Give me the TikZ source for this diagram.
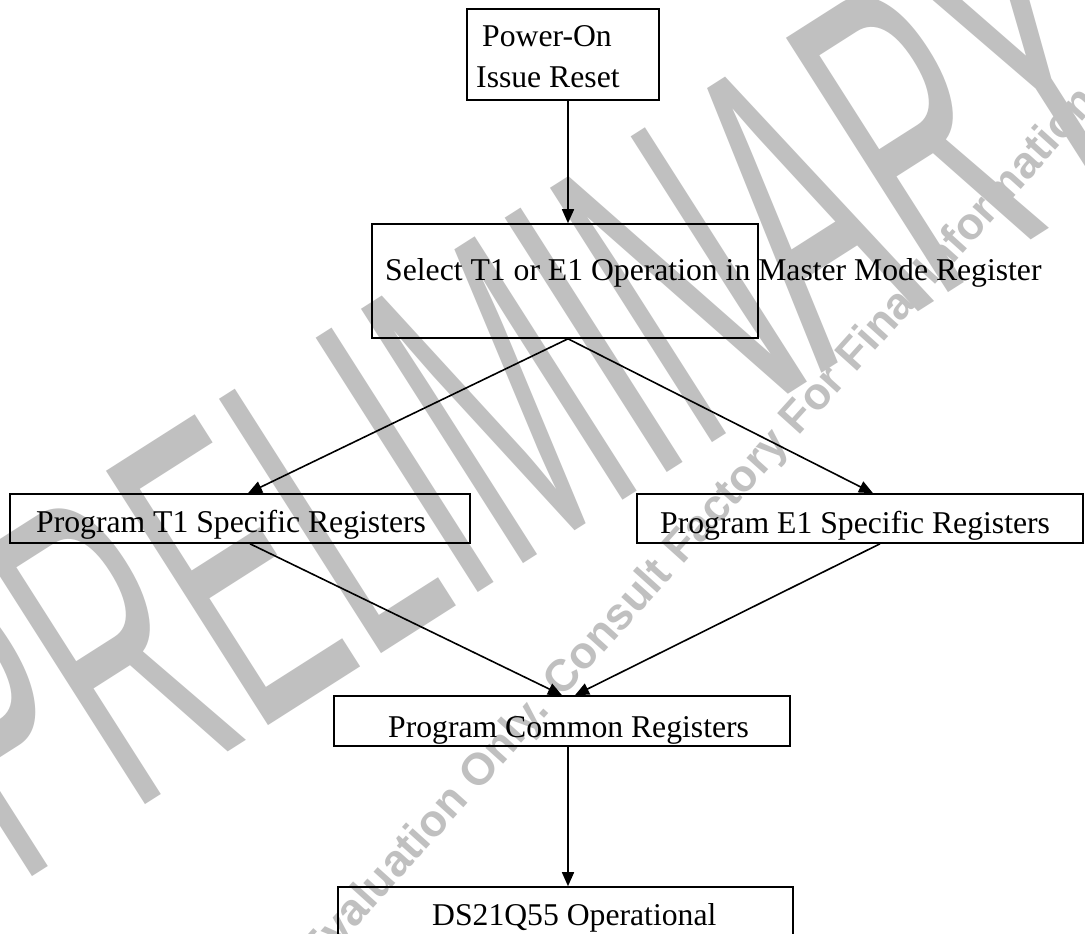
\documentclass[tikz,border=0pt]{standalone}
\usepackage{fontspec}
\usepackage{graphicx}
\setmainfont{Liberation Serif}
\newfontfamily\wmfont{Liberation Sans}
\usetikzlibrary{arrows.meta}
\definecolor{wmgray}{RGB}{192,192,192}
\tikzset{
  box/.style={draw=black, line width=1.6bp, inner sep=0pt},
  lbl/.style={anchor=base west, inner sep=0pt, font=\fontsize{31.8}{38}\selectfont},
  arr/.style={line width=1.6bp, -{Triangle[length=14bp,width=12bp]}},
  wm/.style={text=wmgray, inner sep=0pt},
}
\begin{document}
\begin{tikzpicture}[x=1bp,y=-1bp]
\useasboundingbox (0,0) rectangle (1085,934);
\clip (0,0) rectangle (1085,934);
\fill[white] (0,0) rectangle (1085,934);
% watermark
\node[wm, rotate=32.5] (wm1) at (512,392)
  {\scalebox{0.46}[1]{\wmfont\fontsize{440}{440}\selectfont PRELIMINARY}};
\node[wm, rotate=48, anchor=base west] (wm2) at (318,970)
  {\wmfont\bfseries\fontsize{45}{45}\selectfont Evaluation Only. Consult Factory For Final Information};
% boxes
\node[box, minimum width=192bp, minimum height=91bp] (b1) at (563,54.5) {};
\node[box, minimum width=386bp, minimum height=114bp] (b2) at (565,281) {};
\node[box, minimum width=460bp, minimum height=49bp] (bt) at (240,518.5) {};
\node[box, minimum width=446bp, minimum height=49bp] (be) at (860,518.5) {};
\node[box, minimum width=456bp, minimum height=50bp] (bc) at (562,721) {};
\node[box, minimum width=455bp, minimum height=100bp] (bd) at (565.5,937) {};
% texts
\node[lbl] (t1a) at (482,46) {Power-On};
\node[lbl] (t1b) at (476,87) {Issue Reset};
\node[lbl] (t2) at (385,280) {Select T1 or E1 Operation in Master Mode Register};
\node[lbl] (t3) at (36,532) {Program T1 Specific Registers};
\node[lbl] (t4) at (660,533) {Program E1 Specific Registers};
\node[lbl] (t5) at (388,737) {Program Common Registers};
\node[lbl] (t6) at (432,925) {DS21Q55 Operational};
% connectors
\draw[arr] ([xshift=5bp]b1.south) -- ([xshift=3bp]b2.north);
\draw[arr] ([xshift=3bp]b2.south) -- ([xshift=8bp]bt.north);
\draw[arr] ([xshift=3bp]b2.south) -- ([xshift=13bp]be.north);
\draw[arr] ([xshift=10bp]bt.south) -- ([xshift=0bp]bc.north);
\draw[arr] ([xshift=20bp]be.south) -- ([xshift=13bp]bc.north);
\draw[arr] ([xshift=6bp]bc.south) -- ([xshift=2.5bp]bd.north);
\end{tikzpicture}
\end{document}
